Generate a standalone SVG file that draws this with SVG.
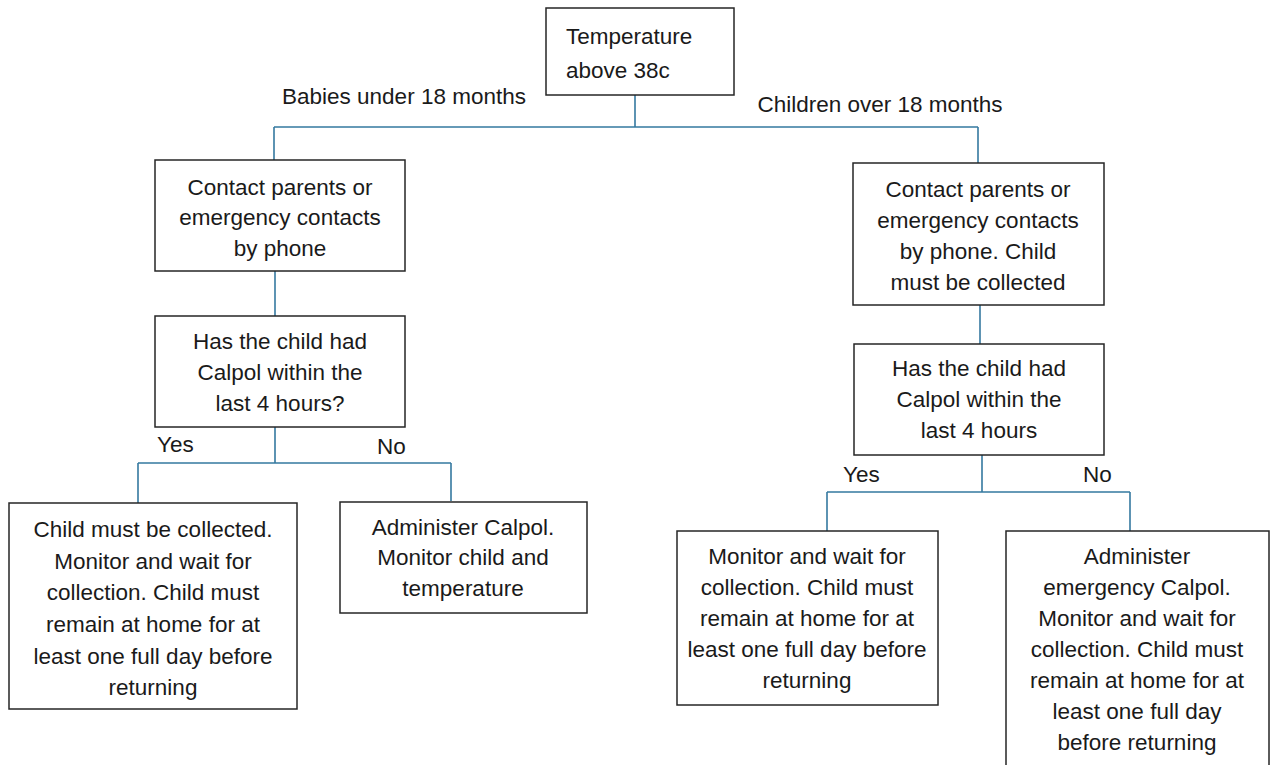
<svg xmlns="http://www.w3.org/2000/svg" width="1272" height="765" viewBox="0 0 1272 765">
<style>
.box{fill:#fff;stroke:#262626;stroke-width:1.5}
.t{font-family:"Liberation Sans",Arial,sans-serif;font-size:22.5px;fill:#1a1a1a;text-anchor:middle}
.l{text-anchor:start}
.c{fill:none;stroke:#3579a0;stroke-width:1.6}
</style>
<rect width="1272" height="765" fill="#fff"/>
<g id="connectors">
<path class="c" d="M635 95V127M274 127H978M274 127V160M978 127V163"/>
<path class="c" d="M275 271V316"/>
<path class="c" d="M275 427V463M138 463H451M138 463V503M451 463V501"/>
<path class="c" d="M980 305V344"/>
<path class="c" d="M982 455V492M827 492H1130M827 492V531M1130 492V531"/>
</g>
<g id="labels">
<text class="t" x="404" y="104">Babies under 18 months</text>
<text class="t" x="880" y="112">Children over 18 months</text>
<text class="t l" x="157" y="452">Yes</text>
<text class="t l" x="377" y="454">No</text>
<text class="t l" x="843" y="482">Yes</text>
<text class="t l" x="1083" y="482">No</text>
</g>
<g id="n_top">
<rect class="box" x="546" y="8" width="188" height="87"/>
<text class="t l" x="566" y="44">Temperature</text>
<text class="t l" x="566" y="78">above 38c</text>
</g>
<g id="n_l1">
<rect class="box" x="155" y="160" width="250" height="111"/>
<text class="t" x="280" y="195">Contact parents or</text>
<text class="t" x="280" y="225">emergency contacts</text>
<text class="t" x="280" y="256">by phone</text>
</g>
<g id="n_l2">
<rect class="box" x="155" y="316" width="250" height="111"/>
<text class="t" x="280" y="349">Has the child had</text>
<text class="t" x="280" y="380">Calpol within the</text>
<text class="t" x="280" y="411">last 4 hours?</text>
</g>
<g id="n_l3">
<rect class="box" x="9" y="503" width="288" height="206"/>
<text class="t" x="153" y="537">Child must be collected.</text>
<text class="t" x="153" y="569">Monitor and wait for</text>
<text class="t" x="153" y="600">collection. Child must</text>
<text class="t" x="153" y="632">remain at home for at</text>
<text class="t" x="153" y="664">least one full day before</text>
<text class="t" x="153" y="695">returning</text>
</g>
<g id="n_l4">
<rect class="box" x="340" y="502" width="247" height="111"/>
<text class="t" x="463" y="535">Administer Calpol.</text>
<text class="t" x="463" y="565">Monitor child and</text>
<text class="t" x="463" y="596">temperature</text>
</g>
<g id="n_r1">
<rect class="box" x="853" y="163" width="251" height="142"/>
<text class="t" x="978" y="197">Contact parents or</text>
<text class="t" x="978" y="228">emergency contacts</text>
<text class="t" x="978" y="259">by phone. Child</text>
<text class="t" x="978" y="290">must be collected</text>
</g>
<g id="n_r2">
<rect class="box" x="854" y="344" width="250" height="111"/>
<text class="t" x="979" y="376">Has the child had</text>
<text class="t" x="979" y="407">Calpol within the</text>
<text class="t" x="979" y="438">last 4 hours</text>
</g>
<g id="n_r3">
<rect class="box" x="677" y="531" width="261" height="174"/>
<text class="t" x="807" y="564">Monitor and wait for</text>
<text class="t" x="807" y="595">collection. Child must</text>
<text class="t" x="807" y="626">remain at home for at</text>
<text class="t" x="807" y="657">least one full day before</text>
<text class="t" x="807" y="688">returning</text>
</g>
<g id="n_r4">
<rect class="box" x="1006" y="531" width="263" height="250"/>
<text class="t" x="1137" y="564">Administer</text>
<text class="t" x="1137" y="595">emergency Calpol.</text>
<text class="t" x="1137" y="626">Monitor and wait for</text>
<text class="t" x="1137" y="657">collection. Child must</text>
<text class="t" x="1137" y="688">remain at home for at</text>
<text class="t" x="1137" y="719">least one full day</text>
<text class="t" x="1137" y="750">before returning</text>
</g>
</svg>
